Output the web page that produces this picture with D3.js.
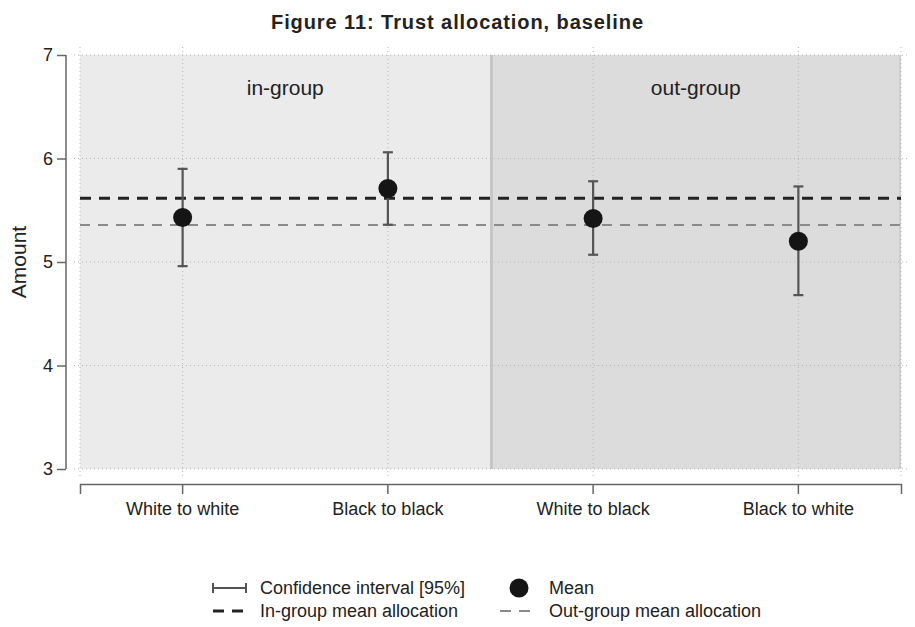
<!DOCTYPE html>
<html>
<head>
<meta charset="utf-8">
<script src="https://cdn.jsdelivr.net/npm/d3@7"></script>
<style>
  html, body { margin: 0; padding: 0; background: #fff; }
  svg { display: block; }
  text { font-family: "Liberation Sans", Arial, sans-serif; fill: #222; }
</style>
</head>
<body>
<svg id="chart" width="915" height="627"></svg>
<script>
// ---- data ----
const categories = ["White to white", "Black to black", "White to black", "Black to white"];
const groups = ["in-group", "out-group"];
const groupOf = ["in-group", "in-group", "out-group", "out-group"];
const means = [5.43, 5.71, 5.42, 5.20];
const ciLow = [4.96, 5.36, 5.07, 4.68];
const ciHigh = [5.90, 6.06, 5.78, 5.73];
const inGroupMean = 5.615;
const outGroupMean = 5.357;
const yTicks = [3, 4, 5, 6, 7];
const title = "Figure 11: Trust allocation, baseline";
const yLabel = "Amount";
const legendLabels = ["Confidence interval [95%]", "Mean", "In-group mean allocation", "Out-group mean allocation"];

// ---- layout ----
const svg = d3.select("#chart");
const plot = { left: 80, right: 901, top: 55, bottom: 469 };

const x = d3.scaleBand().domain(categories).range([plot.left, plot.right]).padding(0);
const y = d3.scaleLinear().domain([3, 7]).range([plot.bottom, plot.top]);
const cx = d => x(d) + x.bandwidth() / 2;

// group background regions
const groupExtent = groups.map(g => {
  const cats = categories.filter((c, i) => groupOf[i] === g);
  return { g, x0: x(cats[0]), x1: x(cats[cats.length - 1]) + x.bandwidth() };
});
const bgFill = { "in-group": "#ebebeb", "out-group": "#dcdcdc" };

svg.append("g").selectAll("rect").data(groupExtent).join("rect")
  .attr("x", d => d.x0).attr("y", y(7))
  .attr("width", d => d.x1 - d.x0).attr("height", y(3) - y(7))
  .attr("fill", d => bgFill[d.g]);

// divider and right edge of out-group region
const og = groupExtent[1];
svg.append("line").attr("x1", og.x0 + 1).attr("x2", og.x0 + 1)
  .attr("y1", y(7)).attr("y2", y(3)).attr("stroke", "#c6c6c6").attr("stroke-width", 3);
svg.append("line").attr("x1", og.x1 - 1).attr("x2", og.x1 - 1)
  .attr("y1", y(7)).attr("y2", y(3)).attr("stroke", "#cfcfcf").attr("stroke-width", 2);

// gridlines (dotted)
const grid = svg.append("g").attr("stroke", "#b5b5b5").attr("stroke-width", 1).attr("stroke-dasharray", "1,3");
grid.selectAll("line.h").data(yTicks).join("line").attr("class", "h")
  .attr("x1", plot.left - 6).attr("x2", plot.right + 8)
  .attr("y1", d => y(d)).attr("y2", d => y(d));
const vPos = [plot.left, ...categories.map(cx), plot.right];
grid.selectAll("line.v").data(vPos).join("line").attr("class", "v")
  .attr("x1", d => d).attr("x2", d => d)
  .attr("y1", plot.top - 8).attr("y2", plot.bottom + 8);

// group labels
svg.append("g").selectAll("text").data(groupExtent).join("text")
  .attr("x", d => (d.x0 + d.x1) / 2).attr("y", 95)
  .attr("text-anchor", "middle").attr("font-size", 21).text(d => d.g);

// reference lines
svg.append("line").attr("x1", plot.left).attr("x2", plot.right)
  .attr("y1", y(outGroupMean)).attr("y2", y(outGroupMean))
  .attr("stroke", "#8a8a8a").attr("stroke-width", 2).attr("stroke-dasharray", "10,8");
svg.append("line").attr("x1", plot.left).attr("x2", plot.right)
  .attr("y1", y(inGroupMean)).attr("y2", y(inGroupMean))
  .attr("stroke", "#222").attr("stroke-width", 3).attr("stroke-dasharray", "11,8");

// error bars
const eb = svg.append("g").attr("stroke", "#555").attr("stroke-width", 2.2);
categories.forEach((c, i) => {
  eb.append("line").attr("x1", cx(c)).attr("x2", cx(c)).attr("y1", y(ciLow[i])).attr("y2", y(ciHigh[i]));
  eb.append("line").attr("x1", cx(c) - 5).attr("x2", cx(c) + 5).attr("y1", y(ciLow[i])).attr("y2", y(ciLow[i]));
  eb.append("line").attr("x1", cx(c) - 5).attr("x2", cx(c) + 5).attr("y1", y(ciHigh[i])).attr("y2", y(ciHigh[i]));
});

// means
svg.append("g").selectAll("circle").data(categories).join("circle")
  .attr("cx", d => cx(d)).attr("cy", (d, i) => y(means[i]))
  .attr("r", 9.5).attr("fill", "#151515");

// y axis
const yAxis = svg.append("g").attr("transform", "translate(66,0)")
  .call(d3.axisLeft(y).tickValues(yTicks).tickSize(9).tickPadding(4).tickFormat(d3.format("d")));
yAxis.select(".domain").attr("stroke", "#666").attr("stroke-width", 1.5).attr("d", `M0,${y(7)}V${y(3)}`);
yAxis.selectAll(".tick line").attr("stroke", "#666").attr("stroke-width", 1.5);
yAxis.selectAll(".tick text").attr("font-size", 18).attr("fill", "#222")
  .attr("font-family", '"Liberation Sans", Arial, sans-serif');

// y label
svg.append("text").attr("transform", `translate(26,${(y(3) + y(7)) / 2}) rotate(-90)`)
  .attr("text-anchor", "middle").attr("font-size", 21).text(yLabel);

// x axis
const xAxisY = 484;
const xAxis = svg.append("g").attr("transform", `translate(0,${xAxisY})`)
  .call(d3.axisBottom(x).tickSizeInner(10).tickSizeOuter(10).tickPadding(8));
xAxis.select(".domain").attr("stroke", "#666").attr("stroke-width", 1.5);
xAxis.selectAll(".tick line").attr("stroke", "#666").attr("stroke-width", 1.5);
xAxis.selectAll(".tick text").attr("font-size", 18).attr("fill", "#222")
  .attr("font-family", '"Liberation Sans", Arial, sans-serif');

// title
svg.append("text").attr("x", 457).attr("y", 29).attr("text-anchor", "middle")
  .attr("font-family", "Lato, 'DejaVu Sans', sans-serif").attr("font-weight", "bold")
  .attr("font-size", 20).attr("fill", "#111")
  .attr("textLength", 372).attr("lengthAdjust", "spacing").text(title);

// legend
const lg = svg.append("g");
const r1 = 588, r2 = 611;
// CI symbol
lg.append("line").attr("x1", 213).attr("x2", 246).attr("y1", r1).attr("y2", r1).attr("stroke", "#555").attr("stroke-width", 2);
lg.append("line").attr("x1", 213).attr("x2", 213).attr("y1", r1 - 5).attr("y2", r1 + 5).attr("stroke", "#555").attr("stroke-width", 2);
lg.append("line").attr("x1", 246).attr("x2", 246).attr("y1", r1 - 5).attr("y2", r1 + 5).attr("stroke", "#555").attr("stroke-width", 2);
// mean
lg.append("circle").attr("cx", 519).attr("cy", r1).attr("r", 9.5).attr("fill", "#151515");
// in-group dash
lg.append("line").attr("x1", 213).attr("x2", 246).attr("y1", r2).attr("y2", r2)
  .attr("stroke", "#222").attr("stroke-width", 3).attr("stroke-dasharray", "11,8");
// out-group dash
lg.append("line").attr("x1", 500).attr("x2", 533).attr("y1", r2).attr("y2", r2)
  .attr("stroke", "#8a8a8a").attr("stroke-width", 2).attr("stroke-dasharray", "11,8");
const legPos = [[260, r1], [549, r1], [260, r2], [549, r2]];
lg.selectAll("text").data(legendLabels).join("text")
  .attr("x", (d, i) => legPos[i][0]).attr("y", (d, i) => legPos[i][1])
  .attr("dy", "0.35em").attr("font-size", 18).text(d => d);
</script>
</body>
</html>
